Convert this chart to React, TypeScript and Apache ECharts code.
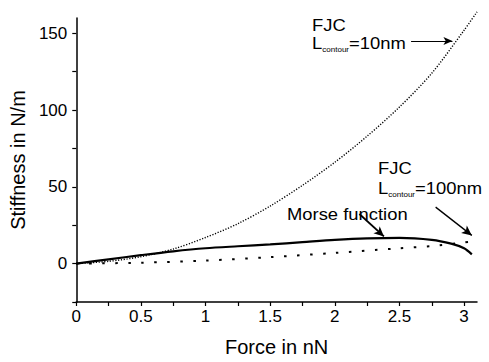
import React, { useEffect, useRef } from "react";
import * as echarts from "echarts";

// ---- data ----
const fjc10Force = [0, 0.25, 0.5, 0.75, 1, 1.25, 1.5, 1.75, 2, 2.25, 2.5, 2.75, 3, 3.1];
const fjc10Stiff = [0, 1.5, 4.5, 9.5, 17, 26, 37.5, 51, 66, 83, 102, 124, 152, 164];

const morseForce = [0, 0.25, 0.5, 0.75, 1, 1.25, 1.5, 1.75, 2, 2.25, 2.5, 2.75, 2.9, 3, 3.06];
const morseStiff = [0, 2.8, 5.5, 8, 10, 11.3, 12.5, 14, 15.5, 16.5, 16.8, 15.5, 13, 10, 6];

const fjc100Force = [0, 0.5, 1, 1.5, 2, 2.5, 2.75, 3, 3.1];
const fjc100Stiff = [0, 0.6, 2, 4.2, 7, 10, 11.5, 13.8, 15];

const xTickValues = [0, 0.25, 0.5, 0.75, 1, 1.25, 1.5, 1.75, 2, 2.25, 2.5, 2.75, 3];
const xLabelValues = [0, 0.5, 1, 1.5, 2, 2.5, 3];
const yTickValues = [-25, 0, 25, 50, 75, 100, 125, 150];
const yLabelValues = [0, 50, 100, 150];

// arrow annotations: [fromForce, fromStiff, toForce, toStiff]
const arrow10 = [2.59, 145, 2.91, 145];
const arrowMorse = [2.19, 32.3, 2.38, 17.7];
const arrow100 = [2.78, 36.8, 3.06, 18.4];

const FONT = "'Liberation Sans', Arial, Helvetica, sans-serif";

function pairs(xs: number[], ys: number[]) {
  return xs.map((x, i) => [x, ys[i]]);
}

function arrowLine(a: number[], width: number) {
  return [
    { coord: [a[0], a[1]], lineStyle: { width, color: "#000", type: "solid" } },
    { coord: [a[2], a[3]] },
  ];
}

export default function App() {
  const ref = useRef<HTMLDivElement>(null);
  useEffect(() => {
    if (!ref.current) return;
    const chart = echarts.init(ref.current, undefined, { renderer: "svg" });
    const textBase = { fontFamily: FONT, fontSize: 16, fill: "#000" };
    const rich = {
      a: { fontFamily: FONT, fontSize: 16, lineHeight: 19, color: "#000" },
      s: { fontFamily: FONT, fontSize: 7, verticalAlign: "bottom", color: "#000" },
    };
    chart.setOption({
      animation: false,
      backgroundColor: "#fff",
      grid: { left: 70, right: 12, top: 18, bottom: 52 },
      xAxis: {
        type: "value",
        min: 0,
        max: 3.1,
        name: "Force in nN",
        nameLocation: "middle",
        nameGap: 35,
        nameTextStyle: { fontFamily: FONT, fontSize: 20, color: "#000" },
        axisLine: { onZero: false, lineStyle: { color: "#000", width: 1.5 } },
        axisTick: { show: true, inside: false, length: 4, customValues: xTickValues, lineStyle: { color: "#000", width: 1.2 } },
        axisLabel: {
          customValues: xLabelValues,
          formatter: (v: number) => String(v),
          fontFamily: FONT,
          fontSize: 17,
          color: "#000",
          margin: 6,
        },
        splitLine: { show: false },
      },
      yAxis: {
        type: "value",
        min: -25,
        max: 160,
        name: "Stiffness in N/m",
        nameLocation: "middle",
        nameGap: 36,
        nameTextStyle: { fontFamily: FONT, fontSize: 20, color: "#000" },
        axisLine: { show: true, onZero: false, lineStyle: { color: "#000", width: 1.5 } },
        axisTick: { show: true, inside: false, length: 4, customValues: yTickValues, lineStyle: { color: "#000", width: 1.2 } },
        axisLabel: {
          customValues: yLabelValues,
          formatter: (v: number) => String(v),
          fontFamily: FONT,
          fontSize: 17,
          color: "#000",
          margin: 9,
        },
        splitLine: { show: false },
      },
      series: [
        {
          name: "FJC 10nm",
          type: "line",
          data: pairs(fjc10Force, fjc10Stiff),
          smooth: 0.3,
          showSymbol: false,
          clip: false,
          lineStyle: { color: "#000", width: 1.4, type: [1.2, 1.6] },
          markLine: {
            silent: true,
            symbol: ["none", "arrow"],
            symbolSize: [6, 9],
            label: { show: false },
            data: [arrowLine(arrow10, 1)],
          },
        },
        {
          name: "FJC 100nm",
          type: "line",
          data: pairs(fjc100Force, fjc100Stiff),
          smooth: 0.3,
          showSymbol: false,
          clip: false,
          lineStyle: { color: "#000", width: 2, type: [2.5, 10.5] },
          markLine: {
            silent: true,
            symbol: ["none", "arrow"],
            symbolSize: [7, 10],
            label: { show: false },
            data: [arrowLine(arrow100, 1.3)],
          },
        },
        {
          name: "Morse function",
          type: "line",
          data: pairs(morseForce, morseStiff),
          smooth: 0.3,
          showSymbol: false,
          lineStyle: { color: "#000", width: 2.2, type: "solid" },
          markLine: {
            silent: true,
            symbol: ["none", "arrow"],
            symbolSize: [7, 10],
            label: { show: false },
            data: [arrowLine(arrowMorse, 1.8)],
          },
        },
      ],
      graphic: [
        { type: "text", x: 312, y: 17, scaleX: 1.15, style: { ...textBase, text: "FJC" } },
        {
          type: "text",
          x: 312,
          y: 34,
          scaleX: 1.15,
          style: { text: "{a|L}{s|contour}{a|=10nm}", rich, fill: "#000" },
        },
        { type: "text", x: 378, y: 160, scaleX: 1.15, style: { ...textBase, text: "FJC" } },
        {
          type: "text",
          x: 378,
          y: 179,
          scaleX: 1.15,
          style: { text: "{a|L}{s|contour}{a|=100nm}", rich, fill: "#000" },
        },
        { type: "text", x: 287, y: 206, scaleX: 1.15, style: { ...textBase, text: "Morse function" } },
      ],
    });
    return () => chart.dispose();
  }, []);
  return (
    <div
      ref={ref}
      style={{ position: "absolute", left: 0, top: 0, width: 489, height: 362, background: "#fff" }}
    />
  );
}
